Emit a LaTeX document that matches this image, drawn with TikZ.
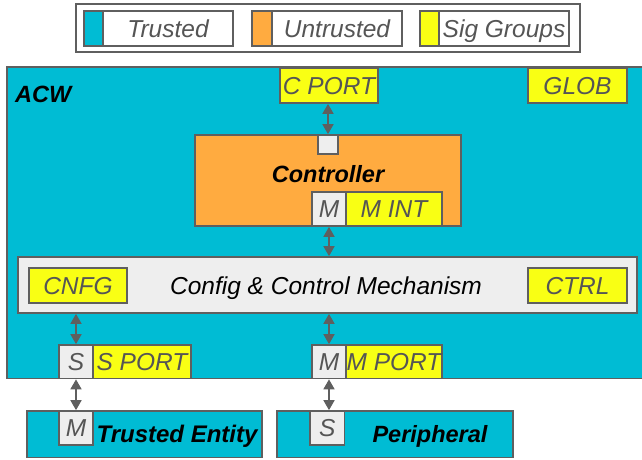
\documentclass[tikz,border=0pt]{standalone}
\usepackage{fontspec}
\setmainfont{Liberation Sans}
\usetikzlibrary{arrows.meta}
\definecolor{cyanfill}{HTML}{00BCD4}
\definecolor{orangefill}{HTML}{FFAB40}
\definecolor{yellowfill}{HTML}{F9FF14}
\definecolor{greyfill}{HTML}{EEEEEE}
\definecolor{edge}{HTML}{5F5F5F}
\definecolor{labelgrey}{HTML}{555555}
\tikzset{
  x=1pt, y=-1pt,
  box/.style={draw=edge, line width=1.7pt, inner sep=0pt, rectangle},
  labelfont/.style={font=\fontsize{24.5}{28}\selectfont\itshape, text=labelgrey, text height=17.5pt, text depth=0pt},
  cyanbox/.style={box, fill=cyanfill},
  orangebox/.style={box, fill=orangefill},
  yellowbox/.style={box, fill=yellowfill, labelfont},
  greybox/.style={box, fill=greyfill, labelfont},
  whitebox/.style={box, fill=white, labelfont},
  boldlabel/.style={inner sep=0pt, font=\fontsize{23.5}{28}\selectfont\bfseries\itshape, text=black, text height=17pt, text depth=0pt},
  arr/.style={draw=edge, line width=1.7pt, {Triangle[length=10pt,width=11pt]}-{Triangle[length=10pt,width=11pt]}},
}
\begin{document}
\begin{tikzpicture}
\useasboundingbox (0,0) rectangle (642,459);
\clip (0,0) rectangle (642,459);
\fill[white] (0,0) rectangle (642,459);
% legend
\node[box, fill=white, minimum width=504pt, minimum height=48pt] (legend) at (328,28) {};
\node[box, fill=cyanfill, minimum width=19pt, minimum height=35pt] (sw1) at (93.5,28.5) {};
\node[whitebox, minimum width=130pt, minimum height=35pt] (lt1) at (168,28.5) {Trusted};
\node[box, fill=orangefill, minimum width=20pt, minimum height=35pt] (sw2) at (262,28.5) {};
\node[whitebox, minimum width=130pt, minimum height=35pt] (lt2) at (337,28.5) {Untrusted};
\node[box, fill=yellowfill, minimum width=19pt, minimum height=35pt] (sw3) at (429.5,28.5) {};
\node[whitebox, minimum width=130pt, minimum height=35pt] (lt3) at (504,28.5) {Sig Groups};
% ACW
\node[cyanbox, minimum width=638pt, minimum height=311.5pt] (acw) at (326,222.75) {};
\node[boldlabel, anchor=west] (acwlabel) at (15,93.5) {ACW};
\node[yellowbox, minimum width=98pt, minimum height=35pt] (cport) at (329,85.5) {C PORT};
\node[yellowbox, minimum width=99pt, minimum height=35pt] (glob) at (577.5,85.5) {GLOB};
% controller
\node[orangebox, minimum width=266pt, minimum height=91pt] (ctrl) at (328,180.5) {};
\node[greybox, minimum width=20pt, minimum height=19pt] (sq) at (328,144.5) {};
\node[boldlabel] (ctrltext) at (328,174) {Controller};
\node[greybox, minimum width=34pt, minimum height=34pt] (mc) at (329,209) {M};
\node[yellowbox, minimum width=96pt, minimum height=34pt] (mint) at (394,209) {M INT};
% config
\node[box, fill=greyfill, minimum width=619pt, minimum height=56pt] (cfg) at (327.5,285) {};
\node[inner sep=0pt, font=\fontsize{24.5}{28}\selectfont\itshape, text=black, text height=17.5pt, text depth=0pt] (cfgtext) at (326,286) {Config \& Control Mechanism};
\node[yellowbox, minimum width=98pt, minimum height=35pt] (cnfg) at (78,285.5) {CNFG};
\node[yellowbox, minimum width=99pt, minimum height=35pt] (ctrlsig) at (577.5,285.5) {CTRL};
% ports
\node[greybox, minimum width=34pt, minimum height=33.5pt] (sps) at (76,361.75) {S};
\node[yellowbox, minimum width=98pt, minimum height=33.5pt] (sport) at (142,361.75) {S PORT};
\node[greybox, minimum width=34pt, minimum height=33.5pt] (mpm) at (329,361.75) {M};
\node[yellowbox, minimum width=96pt, minimum height=33.5pt] (mport) at (394,361.75) {M PORT};
% bottom boxes
\node[cyanbox, minimum width=235pt, minimum height=46.5pt] (te) at (144.5,434.25) {};
\node[greybox, minimum width=34pt, minimum height=34pt] (tem) at (76,428) {M};
\node[boldlabel, font=\fontsize{24}{28}\selectfont\bfseries\itshape] (tetext) at (177,434) {Trusted Entity};
\node[cyanbox, minimum width=236pt, minimum height=46.5pt] (pe) at (395,434.25) {};
\node[greybox, minimum width=34.5pt, minimum height=34pt] (pes) at (327.25,428) {S};
\node[boldlabel] (petext) at (430,434) {Peripheral};
% connectors
\draw[arr] (cport.south -| sq.north) -- (sq.north);
\draw[arr] (mc.south) -- (mc.south |- cfg.north);
\draw[arr] (sps.north |- cfg.south) -- (sps.north);
\draw[arr] (mpm.north |- cfg.south) -- (mpm.north);
\draw[arr] (sps.south) -- (sps.south |- tem.north);
\draw[arr] (mpm.south) -- (mpm.south |- pes.north);
\end{tikzpicture}
\end{document}
